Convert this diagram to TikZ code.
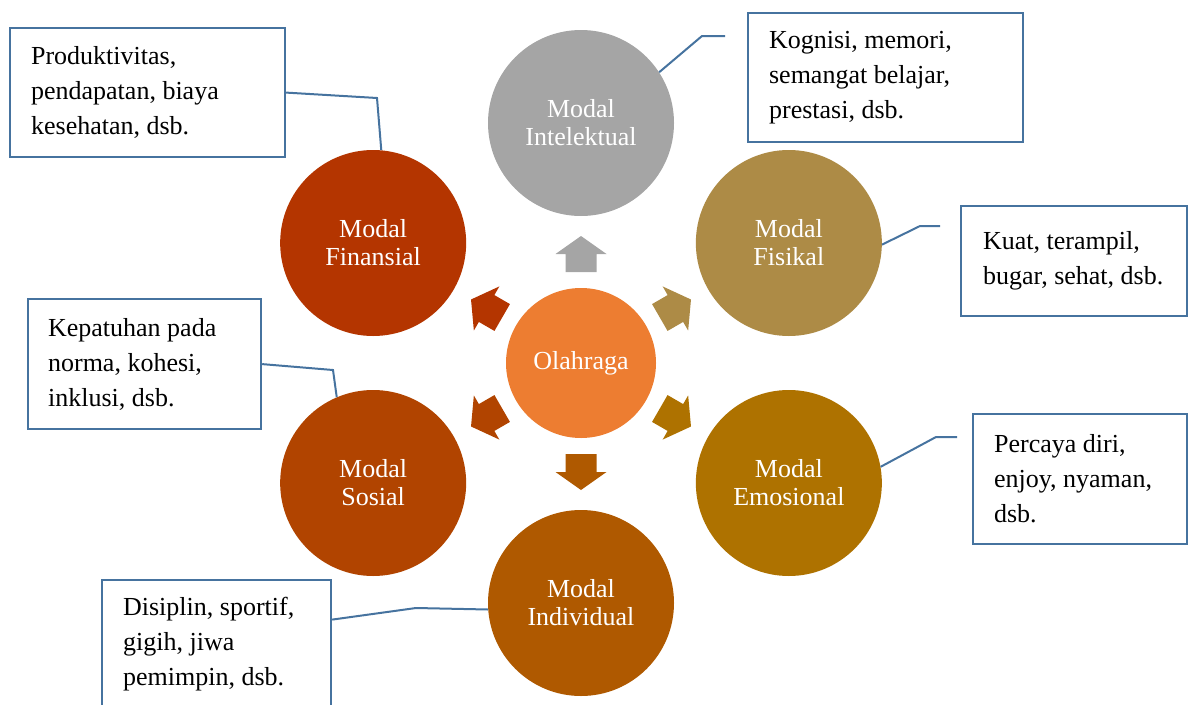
\documentclass[tikz,border=0pt]{standalone}
\usepackage{fontspec}
\setmainfont{Liberation Serif}
\usepackage{xcolor}
\usetikzlibrary{calc}
\definecolor{olahc}{HTML}{ED7D31}
\definecolor{intelc}{HTML}{A5A5A5}
\definecolor{financ}{HTML}{B43500}
\definecolor{fisikc}{HTML}{AD8B46}
\definecolor{emosic}{HTML}{AE7200}
\definecolor{indivc}{HTML}{AF5900}
\definecolor{sosialc}{HTML}{B14400}
\definecolor{garis}{HTML}{46739F}

\begin{document}
\begin{tikzpicture}[
    x=1pt, y=1pt,
    modal/.style={circle, fill=#1, minimum size=186pt, inner sep=0pt, align=center, text=white, font=\fontsize{26}{28}\selectfont},
    ket/.style={draw=garis, line width=2.2pt, fill=white, anchor=north west, align=flush left, inner xsep=21pt, inner ysep=0pt, minimum height=129pt, font=\fontsize{26}{35}\selectfont},
    kait/.style={draw=garis, line width=2pt}
]
    \useasboundingbox (0,0) rectangle (1188,-704);

    \node[modal=olahc, minimum size=150pt] (olah) at (581,-363) {Olahraga};
    \node[modal=intelc] (intel) at ($(olah)+(90:240)$) {Modal\\Intelektual};
    \node[modal=fisikc] (fisik) at ($(olah)+(30:240)$) {Modal\\Fisikal};
    \node[modal=emosic] (emosi) at ($(olah)+(-30:240)$) {Modal\\Emosional};
    \node[modal=indivc] (indiv) at ($(olah)+(-90:240)$) {Modal\\Individual};
    \node[modal=sosialc] (sosial) at ($(olah)+(-150:240)$) {Modal\\Sosial};
    \node[modal=financ] (finan) at ($(olah)+(150:240)$) {Modal\\Finansial};

    \foreach \a/\c in {90/intelc, 30/fisikc, -30/emosic, -90/indivc, -150/sosialc, 150/financ}
        \fill[\c, shift={(olah.center)}, rotate=\a] (91,15.5) -- (109,15.5) -- (109,25.5) -- (127,0) -- (109,-25.5) -- (109,-15.5) -- (91,-15.5) -- cycle;

    \node[ket, text width=233pt] (finanket) at (9,-27) {Produktivitas,\\pendapatan, biaya\\kesehatan, dsb.};
    \node[ket, text width=233pt] (intelket) at (747,-12) {Kognisi, memori,\\semangat belajar,\\prestasi, dsb.};
    \node[ket, text width=182pt, inner xsep=22pt, minimum height=110pt] (fisikket) at (960,-205) {Kuat, terampil,\\bugar, sehat, dsb.};
    \node[ket, text width=193pt, inner xsep=20pt, minimum height=130pt] (sosialket) at (27,-298) {Kepatuhan pada\\norma, kohesi,\\inklusi, dsb.};
    \node[ket, text width=172pt, minimum height=130pt] (emosiket) at (972,-413) {Percaya diri,\\enjoy, nyaman,\\dsb.};
    \node[ket, text width=187pt] (indivket) at (101,-579) {Disiplin, sportif,\\gigih, jiwa\\pemimpin, dsb.};

    \coordinate (finanbelok) at (377,-98);
    \coordinate (intelbelok) at (702,-36);
    \coordinate (intelujung) at (725,-36);
    \coordinate (fisikbelok) at (920,-226);
    \coordinate (fisikujung) at (940,-226);
    \coordinate (sosialbelok) at (333,-370);
    \coordinate (emosibelok) at (936,-437);
    \coordinate (emosiujung) at (957,-437);
    \coordinate (indivbelok) at (416,-608);

    \draw[kait] (finanket.east) -- (finanbelok) -- (finan.85);
    \draw[kait] (intel.33) -- (intelbelok) -- (intelujung);
    \draw[kait] (fisik.-1) -- (fisikbelok) -- (fisikujung);
    \draw[kait] (sosialket.east) -- (sosialbelok) -- (sosial.113);
    \draw[kait] (emosi.10) -- (emosibelok) -- (emosiujung);
    \draw[kait] ([yshift=25pt]indivket.east) -- (indivbelok) -- (indiv.184);
\end{tikzpicture}
\end{document}
